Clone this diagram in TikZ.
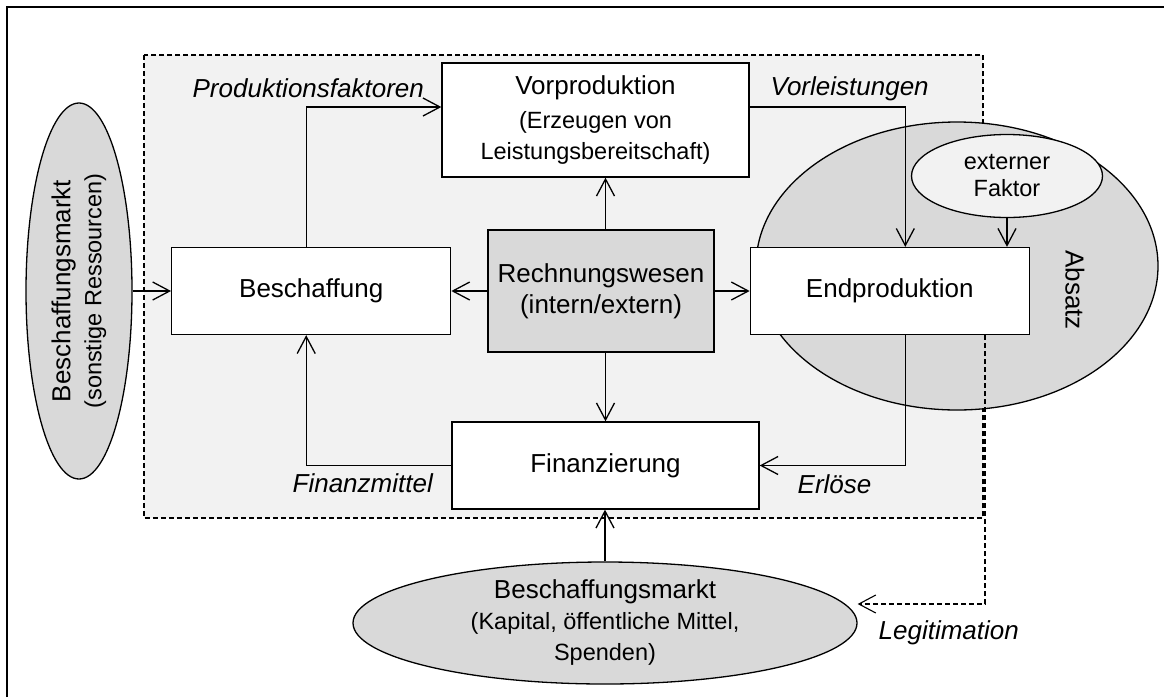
\documentclass[tikz,border=0pt]{standalone}
\usepackage{fontspec}
\setmainfont{Liberation Sans}
\usetikzlibrary{arrows.meta,positioning,calc,shapes.geometric}
\definecolor{bgGrey}{HTML}{F2F2F2}
\definecolor{boxGrey}{HTML}{D9D9D9}
\newcommand{\mainsz}{\fontsize{26}{31}\selectfont}
\newcommand{\subsz}{\fontsize{23.5}{27}\selectfont}

\begin{document}
\begin{tikzpicture}[x=1pt,y=-1pt,line width=1.3pt,
    box/.style={draw,fill=white,align=center,font=\mainsz,inner sep=0pt},
    markt/.style={draw,ellipse,fill=boxGrey,align=center,font=\mainsz,inner sep=-8pt},
    flow/.style={-{Straight Barb[length=17pt,width=18pt]}},
    lbl/.style={font=\mainsz\itshape,inner sep=0pt,anchor=base west},
    dashline/.style={line width=1.1pt,dash pattern=on 5pt off 3pt}]
  \useasboundingbox (0,0) rectangle (1164,697);
  \draw (7,697) -- (7,7) -- (1164,7);
  % organisation
  \draw[dashline,fill=bgGrey] (144,55) rectangle (983,518);
  \node[draw,ellipse,fill=boxGrey,minimum width=402,minimum height=288,inner sep=0pt] (absatzbg) at (957,266) {};
  \node[font=\mainsz,rotate=-90,inner sep=0pt] (absatz) at (1075,290) {Absatz};
  \node[draw,ellipse,fill=bgGrey,align=center,font=\subsz,inner sep=0pt,minimum width=191,minimum height=83] (ext) at (1007,176)
    {externer\\Faktor};
  \node[box,fill=boxGrey,minimum width=226,minimum height=122] (rw) at (601,291)
    {Rechnungswesen\\(intern/extern)};
  \node[box,minimum width=279,minimum height=87,left=36pt of rw] (besch) {Beschaffung};
  \node[box,minimum width=279,minimum height=87,right=35pt of rw] (endp) {Endproduktion};
  \node[box,minimum width=307,minimum height=114] (vorp) at (595.5,120)
    {Vorproduktion\\[3pt]{\subsz (Erzeugen von}\\{\subsz Leistungsbereitschaft)}};
  \node[box,minimum width=307,minimum height=87] (fin) at (605.5,465.5) {Finanzierung};
  % markets
  \node[markt,rotate=90,minimum width=376,minimum height=106] (lm) at (79,291)
    {Beschaffungsmarkt\\{\subsz (sonstige Ressourcen)}};
  \node[markt,minimum width=504,minimum height=122] (bm) at (605,623)
    {Beschaffungsmarkt\\{\subsz (Kapital, öffentliche Mittel,}\\{\subsz Spenden)}};
  % flows
  \draw[flow] (lm) -- (besch);
  \draw[flow] (rw.west) -- (besch.east);
  \draw[flow] (rw.east) -- (endp.west);
  \draw[flow] (rw.north -| fin.north) -- (vorp.south -| fin.north);
  \draw[flow] (rw.south -| fin.north) -- (fin.north);
  \draw[flow] ($(besch.north)+(-5,0)$) |- ($(vorp.west)+(0,-13)$);
  \draw[flow] ($(vorp.east)+(0,-13)$) -| ($(endp.north)+(15.5,0)$);
  \draw[flow] (ext.south) -- (ext.south |- endp.north);
  \draw[flow] ($(endp.south)+(15.5,0)$) |- (fin.east);
  \draw[flow] (fin.west) -| ($(besch.south)+(-5,0)$);
  \draw[flow] (bm.north) -- (bm.north |- fin.south);
  \coordinate (legit) at ($(bm.east)+(0,-19)$);
  \draw[flow,dashline] ($(endp.south east)+(-45,0)$) |- (legit);
  % labels
  \node[lbl] (pf) at (192,97) {Produktionsfaktoren};
  \node[lbl] (vl) at (770,95) {Vorleistungen};
  \node[lbl] (fm) at (292,492) {Finanzmittel};
  \node[lbl] (er) at (797,493) {Erlöse};
  \node[lbl] (lg) at (878,639) {Legitimation};
\end{tikzpicture}
\end{document}
